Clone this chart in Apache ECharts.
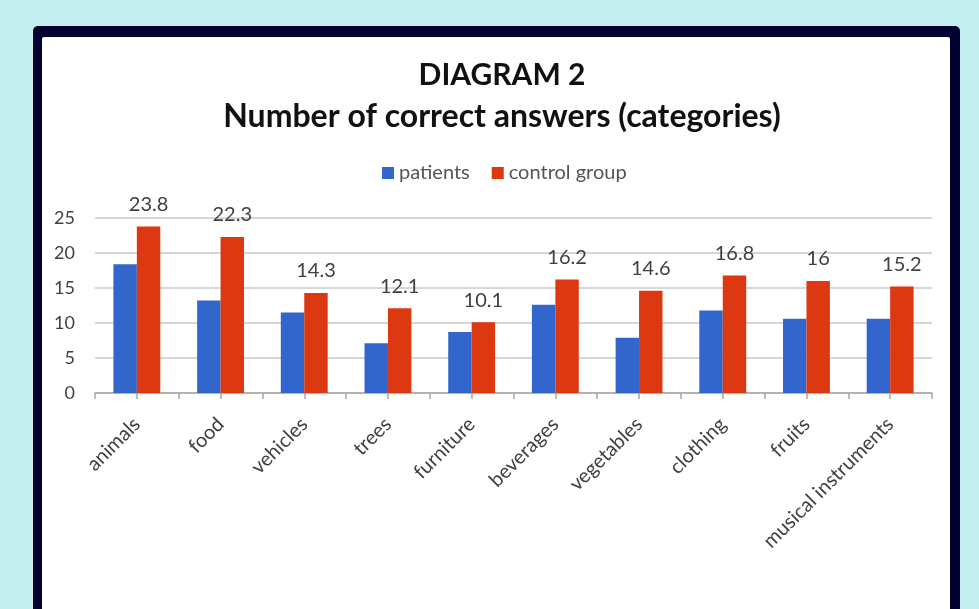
<!DOCTYPE html>
<html>
<head>
<meta charset="utf-8">
<script src="https://cdn.jsdelivr.net/npm/echarts@6/dist/echarts.min.js"></script>
<style>
  html, body { margin: 0; padding: 0; background: #c4eff0; }
  #chart { width: 979px; height: 609px; }
</style>
</head>
<body>
<div id="chart"></div>
<script>
// data
const categories = ['animals', 'food', 'vehicles', 'trees', 'furniture', 'beverages', 'vegetables', 'clothing', 'fruits', 'musical instruments']
const patients = [18.4, 13.2, 11.5, 7.1, 8.7, 12.6, 7.9, 11.8, 10.6, 10.6]
const controlGroup = [23.8, 22.3, 14.3, 12.1, 10.1, 16.2, 14.6, 16.8, 16, 15.2]
const yTicks = [0, 5, 10, 15, 20, 25]

const FONT = 'Lato'
const chart = echarts.init(document.getElementById('chart'))

const option = {
  backgroundColor: '#c4eff0',
  textStyle: { fontFamily: FONT },
  graphic: [
    {
      type: 'rect', z: -10, silent: true,
      shape: { x: 33, y: 26, width: 927, height: 620, r: 5 },
      style: { fill: '#02002e' },
    },
    {
      type: 'rect', z: -9, silent: true,
      shape: { x: 42, y: 37, width: 908, height: 620, r: 2 },
      style: { fill: '#ffffff' },
    },
  ],
  title: [
    {
      text: 'DIAGRAM 2',
      left: 497, top: 55, textAlign: 'center',
      textStyle: { fontFamily: FONT, fontWeight: 'bold', fontSize: 30, color: '#111' },
    },
    {
      text: 'Number of correct answers (categories)',
      left: 497, top: 96, textAlign: 'center',
      textStyle: { fontFamily: FONT, fontWeight: 'bold', fontSize: 32, color: '#111' },
    },
  ],
  legend: {
    top: 158, left: 377,
    itemWidth: 12, itemHeight: 12, itemGap: 22,
    icon: 'rect',
    textStyle: { fontFamily: FONT, fontSize: 20, color: '#555' },
    data: ['patients', 'control group'],
  },
  grid: { left: 95, right: 47, top: 218, bottom: 216 },
  xAxis: [
    {
      type: 'category',
      data: categories,
      axisLine: { lineStyle: { color: '#a6a6a6', width: 1.5 } },
      axisTick: { show: true, length: 6, interval: 0, lineStyle: { color: '#a6a6a6', width: 1.5 } },
      axisLabel: { interval: 0, rotate: 45, margin: 28, fontFamily: FONT, fontSize: 20, color: '#404040' },
    },
    {
      type: 'category',
      data: categories,
      position: 'bottom',
      axisLine: { show: false },
      axisTick: { show: true, alignWithLabel: true, length: 6, interval: 0, lineStyle: { color: '#a6a6a6', width: 1.5 } },
      axisLabel: { show: false },
    },
  ],
  yAxis: {
    type: 'value',
    min: yTicks[0], max: yTicks[yTicks.length - 1], interval: 5,
    axisLine: { show: false },
    axisTick: { show: false },
    splitLine: { lineStyle: { color: '#c8c8c8', width: 1.5 } },
    axisLabel: { margin: 20, fontFamily: FONT, fontSize: 18, color: '#404040' },
  },
  series: [
    {
      name: 'patients',
      type: 'bar',
      data: patients,
      barGap: '0%',
      barCategoryGap: '44%',
      itemStyle: { color: '#3366cc' },
    },
    {
      name: 'control group',
      type: 'bar',
      data: controlGroup,
      barGap: '0%',
      barCategoryGap: '44%',
      itemStyle: { color: '#dc3912' },
      label: {
        show: true, position: 'top', distance: 12,
        fontFamily: FONT, fontSize: 20, color: '#404040',
      },
    },
  ],
}

chart.setOption(option)
</script>
</body>
</html>
